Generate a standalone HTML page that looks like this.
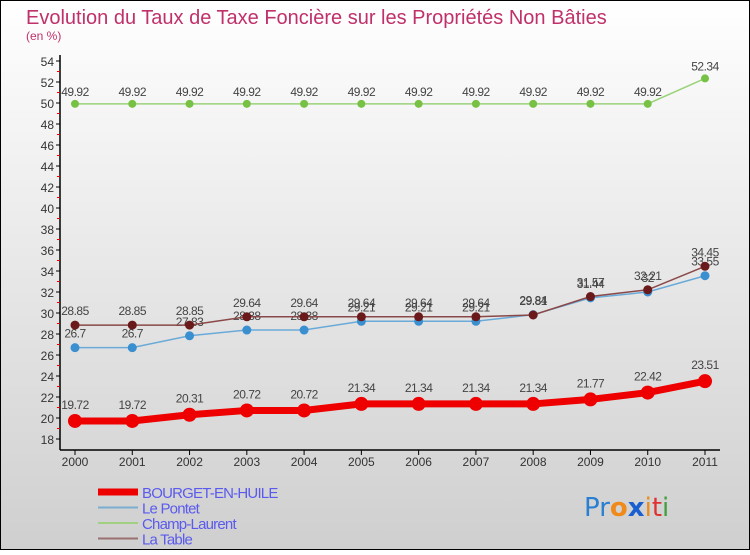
<!DOCTYPE html>
<html><head><meta charset="utf-8"><style>
html,body{margin:0;padding:0;}
body{width:750px;height:550px;overflow:hidden;font-family:"Liberation Sans",sans-serif;}
</style></head><body>
<svg id="chart" width="750" height="550" xmlns="http://www.w3.org/2000/svg">
<defs><linearGradient id="bg" x1="0" y1="0" x2="0" y2="1"><stop offset="0" stop-color="#ffffff"/><stop offset="1" stop-color="#cfcfcf"/></linearGradient></defs>
<rect x="0" y="0" width="750" height="550" fill="url(#bg)" stroke="#000" stroke-width="2"/>
<text x="26" y="24" font-size="20" fill="#c0306a">Evolution du Taux de Taxe Foncière sur les Propriétés Non Bâties</text>
<text x="26" y="40" font-size="12" fill="#c0306a">(en %)</text>
<g id="axes"></g>
<g id="series"></g>
<g id="legend"></g>
<text x="584" y="516" font-size="26" font-family="'DejaVu Sans',sans-serif"><tspan fill="#2a7fd0">Pr</tspan><tspan fill="#f08a1a" font-weight="bold">o</tspan><tspan fill="#1a5fd0" font-weight="bold">x</tspan><tspan fill="#f08a1a">i</tspan><tspan fill="#e03030">t</tspan><tspan fill="#40a040">i</tspan></text>
</svg>
<script>
const years=[2000,2001,2002,2003,2004,2005,2006,2007,2008,2009,2010,2011];
const bourget=[19.72,19.72,20.31,20.72,20.72,21.34,21.34,21.34,21.34,21.77,22.42,23.51];
const pontet=[26.7,26.7,27.83,28.38,28.38,29.21,29.21,29.21,29.84,31.44,32,33.55];
const champ=[49.92,49.92,49.92,49.92,49.92,49.92,49.92,49.92,49.92,49.92,49.92,52.34];
const table=[28.85,28.85,28.85,29.64,29.64,29.64,29.64,29.64,29.81,31.57,32.21,34.45];
const yTicks=[18,20,22,24,26,28,30,32,34,36,38,40,42,44,46,48,50,52,54];
const NS="http://www.w3.org/2000/svg";
const X=i=>75+i*(630/11);
const Y=v=>439-(v-18)*10.5;
function mk(tag,attrs,parent){const e=document.createElementNS(NS,tag);for(const k in attrs)e.setAttribute(k,attrs[k]);parent.appendChild(e);return e;}
const axes=document.getElementById('axes');
let a=mk('line',{x1:60,y1:55,x2:60,y2:450,stroke:'#000','stroke-width':1.5},axes);


a=mk('line',{x1:60,y1:450,x2:720,y2:450,stroke:'#000','stroke-width':1.5},axes);


yTicks.forEach(v=>{
  mk('line',{x1:56,y1:Y(v),x2:60,y2:Y(v),stroke:'#000'},axes);
  if(v<54)mk('line',{x1:57,y1:Y(v+1),x2:60,y2:Y(v+1),stroke:'#e00'},axes);
  const t=mk('text',{x:54,y:Y(v)+5,'text-anchor':'end','font-size':12,fill:'#333'},axes);
  t.textContent=v;
  
  
});
years.forEach((y,i)=>{
  mk('line',{x1:X(i),y1:450,x2:X(i),y2:455,stroke:'#000'},axes);
  const t=mk('text',{x:X(i),y:466,'text-anchor':'middle','font-size':12,fill:'#333'},axes);
  t.textContent=y;
  
  
});
const ser=document.getElementById('series');
function draw(vals,name,color,lw,r,dot,labDy){
  const g=mk('g',{},ser);
  
  
  const p=mk('polyline',{points:vals.map((v,i)=>X(i)+','+Y(v)).join(' '),fill:'none',stroke:color,'stroke-width':lw},g);
  
  
  vals.forEach((v,i)=>{
    const c=mk('circle',{cx:X(i),cy:Y(v),r:r,fill:dot},g);
    
    
    const t=mk('text',{x:X(i),y:Y(v)+labDy,'text-anchor':'middle','font-size':12,fill:'#444','letter-spacing':'-0.5'},g);
    t.textContent=v;
    
    
  });
}
draw(champ,'champ-laurent','#9ad27a',1.5,4,'#77c244',-8);
draw(pontet,'le-pontet','#6aaad8',1.5,4.5,'#3a8fd0',-10);
draw(table,'la-table','#8a4848',1.5,4.5,'#6a1a1a',-10);
draw(bourget,'bourget-en-huile','#ee0000',7,7,'#ee0000',-12);
const leg=document.getElementById('legend');
const names=['BOURGET-EN-HUILE','Le Pontet','Champ-Laurent','La Table'];
const cols=['#ee0000','#7aaed0','#a0d080','#9a7070'];
const lws=[7,2,2,2];
names.forEach((n,i)=>{
  const y=492+i*15.5;
  const l=mk('line',{x1:98,y1:y,x2:138,y2:y,stroke:cols[i],'stroke-width':lws[i]},leg);
  
  
  const t=mk('text',{x:142,y:y+6,'font-size':15,fill:'#5a5aee','letter-spacing':'-0.8'},leg);
  t.textContent=n;
  
  
});
</script>
</body></html>
